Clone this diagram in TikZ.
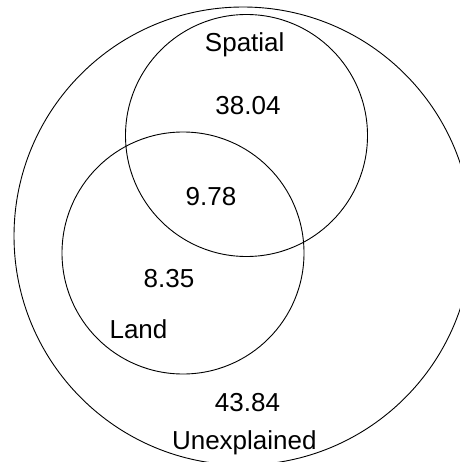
\documentclass[tikz,border=0pt]{standalone}
\usepackage{fontspec}
\setmainfont{Liberation Sans}
\begin{document}
\begin{tikzpicture}[x=1pt,y=-1pt,
  ring/.style={circle,draw=black,line width=0.9pt,inner sep=0pt,outer sep=0pt},
  lab/.style={anchor=base,inner sep=0pt,font=\fontsize{26}{30}\selectfont}]
\useasboundingbox (0,0) rectangle (459,462);
\node[ring,minimum size=458pt] (outer) at (243,236) {};
\node[ring,minimum size=242pt] (spatial) at (246.5,135.5) {};
\node[ring,minimum size=242pt] (land) at (183,253) {};
\node[lab] (tsp) at (244.7,51.5) {Spatial};
\node[lab] (t1) at (248,115) {38.04};
\node[lab] (t2) at (211,205) {9.78};
\node[lab] (t3) at (169,287.7) {8.35};
\node[lab] (tla) at (138.5,338.3) {Land};
\node[lab] (t4) at (247.5,411.7) {43.84};
\node[lab] (tun) at (244.3,449) {Unexplained};
\end{tikzpicture}
\end{document}
